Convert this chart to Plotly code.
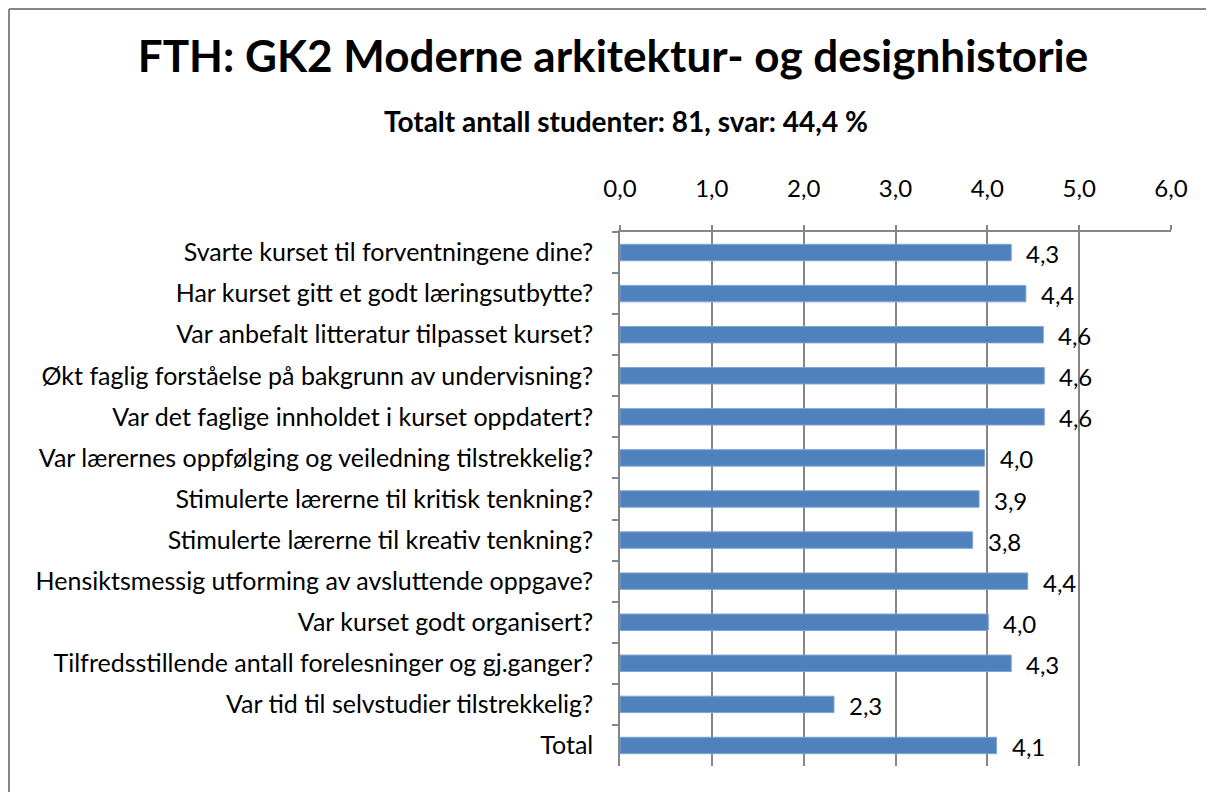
import plotly.graph_objects as go

categories = [
    "Svarte kurset til forventningene dine?",
    "Har kurset gitt et godt læringsutbytte?",
    "Var anbefalt litteratur tilpasset kurset?",
    "Økt faglig forståelse på bakgrunn av undervisning?",
    "Var det faglige innholdet i kurset oppdatert?",
    "Var lærernes oppfølging og veiledning tilstrekkelig?",
    "Stimulerte lærerne til kritisk tenkning?",
    "Stimulerte lærerne til kreativ tenkning?",
    "Hensiktsmessig utforming av avsluttende oppgave?",
    "Var kurset godt organisert?",
    "Tilfredsstillende antall forelesninger og gj.ganger?",
    "Var tid til selvstudier tilstrekkelig?",
    "Total",
]
values = [4.26, 4.42, 4.61, 4.62, 4.62, 3.97, 3.91, 3.84, 4.44, 4.01, 4.26, 2.33, 4.10]
value_labels = ["4,3", "4,4", "4,6", "4,6", "4,6", "4,0", "3,9", "3,8", "4,4", "4,0", "4,3", "2,3", "4,1"]
tick_values = [0, 1, 2, 3, 4, 5, 6]
tick_labels = ["0,0", "1,0", "2,0", "3,0", "4,0", "5,0", "6,0"]

title_text = "FTH: GK2 Moderne arkitektur- og designhistorie"
subtitle_text = "Totalt antall studenter: 81, svar: 44,4 %"

FONT = "Lato"
GRID = "#868686"

# page has an 8px body margin; figure coords = page coords - 8
OFF = 8
W, H = 1214 - OFF, 792 - OFF
L = 620 - OFF
T = 232 - OFF
R = W - (1171 - OFF)
B = H - (766 - OFF)
pw, ph = W - L - R, H - T - B


def px_x(p):  # page pixel -> paper
    return (p - OFF - L) / pw


def px_y(p):
    return (H - B - (p - OFF)) / ph


fig = go.Figure()
fig.add_trace(go.Bar(
    x=values, y=categories, orientation="h",
    marker=dict(color="#4F81BD", line=dict(color="#7FA4D3", width=1)),
    hoverinfo="skip",
))

annotations = []
for v, c, lab in zip(values, categories, value_labels):
    annotations.append(dict(
        x=v, y=c, xref="x", yref="y", text=lab, showarrow=False,
        xanchor="left", yanchor="middle", xshift=13, yshift=-1,
        font=dict(family=FONT, size=24, color="black"),
    ))
annotations.append(dict(
    x=px_x(626), y=px_y(121), xref="paper", yref="paper",
    text="<b>" + subtitle_text + "</b>", showarrow=False,
    xanchor="center", yanchor="middle",
    font=dict(family=FONT, size=28, color="black"),
))

fig.update_layout(
    width=W, height=H,
    margin=dict(l=L, r=R, t=T, b=B, autoexpand=False),
    paper_bgcolor="white", plot_bgcolor="white",
    showlegend=False,
    bargap=0.6,
    font=dict(family=FONT, size=24, color="black"),
    title=dict(
        text="<b>" + title_text + "</b>",
        x=(613 - OFF) / W, xanchor="center", y=1 - (57 - OFF) / H, yanchor="middle",
        yref="container", xref="container",
        font=dict(family=FONT, size=44, color="black"),
    ),
    annotations=annotations,
    xaxis=dict(
        side="top", range=[0, 6], tickvals=tick_values, ticktext=tick_labels,
        showgrid=True, gridcolor=GRID, gridwidth=1.5,
        showline=True, linecolor=GRID, linewidth=1.5,
        ticks="outside", ticklen=5, tickcolor=GRID, tickwidth=1.5,
        ticklabelstandoff=19,
        zeroline=False, fixedrange=True, automargin=False,
        tickfont=dict(family=FONT, size=24, color="black"),
    ),
    yaxis=dict(
        type="category", autorange="reversed",
        showline=True, linecolor=GRID, linewidth=1.5,
        ticks="outside", tickson="boundaries", ticklen=6, tickcolor=GRID, tickwidth=1.5,
        ticklabelstandoff=20,
        showgrid=False, fixedrange=True, automargin=False,
        tickfont=dict(family=FONT, size=25, color="black"),
    ),
    shapes=[
        dict(type="line", xref="paper", yref="paper",
             x0=px_x(9), x1=px_x(9), y0=px_y(9), y1=px_y(820),
             line=dict(color=GRID, width=2)),
        dict(type="line", xref="paper", yref="paper",
             x0=px_x(9), x1=px_x(1240), y0=px_y(9), y1=px_y(9),
             line=dict(color=GRID, width=2)),
    ],
)

fig.write_html("out.html")
